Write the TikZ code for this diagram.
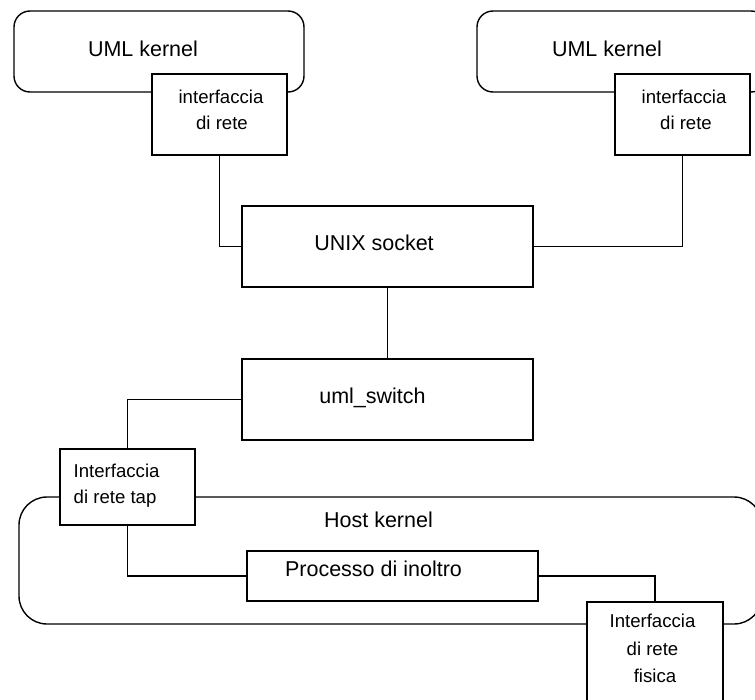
\documentclass[tikz,border=0pt]{standalone}
\usepackage{fontspec}
\setmainfont{Liberation Sans}
\begin{document}
\begin{tikzpicture}[x=1pt,y=-1pt,
  line width=1.4pt,
  container/.style={draw, rounded corners=#1, inner sep=0pt},
  unit/.style={draw, fill=white, inner sep=0pt},
  big/.style={font=\fontsize{21.5}{26}\selectfont, inner sep=0pt, anchor=base},
  small/.style={font=\fontsize{18.6}{26}\selectfont, inner sep=0pt, anchor=base},
]
\clip (0,0) rectangle (755,699);

% rounded kernel areas
\node[container=16pt, minimum width=290pt, minimum height=81pt] (lk) at (159,51.5) {};
\node[container=16pt, minimum width=290pt, minimum height=81pt] (rk) at (622,51.5) {};
\node[container=28pt, minimum width=743pt, minimum height=127pt] (host) at (390.5,560.5) {};

% component boxes
\node[unit, minimum width=135pt, minimum height=81pt] (lif) at (219.5,114.5) {};
\node[unit, minimum width=135pt, minimum height=81pt] (rif) at (682.5,114.5) {};
\node[unit, minimum width=291pt, minimum height=81pt] (unix) at (387.5,246.5) {};
\node[unit, minimum width=291pt, minimum height=81pt] (sw) at (387.5,399.5) {};
\node[unit, minimum width=135pt, minimum height=76pt] (tap) at (127.5,487) {};
\node[unit, minimum width=291pt, minimum height=50pt] (proc) at (392.5,576) {};
\node[unit, minimum width=136pt, minimum height=100pt] (fis) at (655,652) {};

% connections
\draw (lif.south) |- (unix.west);
\draw (rif.south) |- (unix.east);
\draw (unix.south) -- (unix.south |- sw.north);
\draw (sw.west) -| (tap.north);
\draw (tap.south) |- (proc.west);
\draw (proc.east) -| (fis.north);

% labels
\node[big] (lk-t) at (143,56) {UML kernel};
\node[big] (rk-t) at (607,56) {UML kernel};
\node[big] (unix-t) at (374,250) {UNIX socket};
\node[big] (sw-t) at (372.5,403) {uml\_switch};
\node[big] (host-t) at (378.5,527) {Host kernel};
\node[big] (proc-t) at (373.5,576.5) {Processo di inoltro};

\node[small] (lif-t1) at (221,103.5) {interfaccia};
\node[small] (lif-t2) at (222,129.5) {di rete};
\node[small] (rif-t1) at (684,103.5) {interfaccia};
\node[small] (rif-t2) at (686,129.5) {di rete};
\node[small, anchor=base west] (tap-t1) at (73,477) {Interfaccia};
\node[small, anchor=base west] (tap-t2) at (73,503.5) {di rete tap};
\node[small] (fis-t1) at (652.5,627) {Interfaccia};
\node[small] (fis-t2) at (652.5,655) {di rete};
\node[small] (fis-t3) at (655,682) {fisica};
\end{tikzpicture}
\end{document}
